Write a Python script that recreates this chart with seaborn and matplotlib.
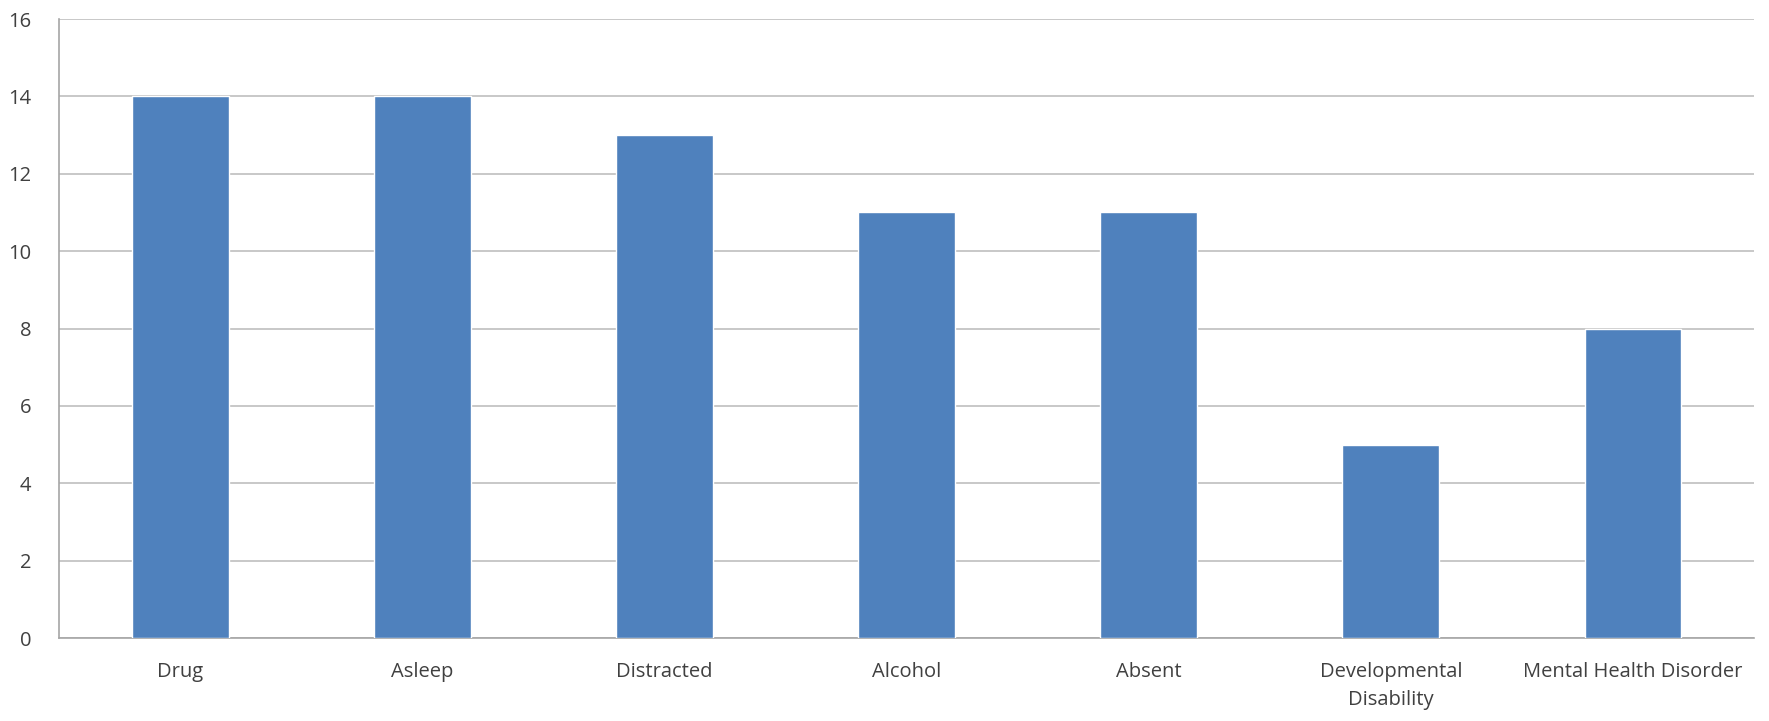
import matplotlib
matplotlib.use("Agg")
import pandas as pd
import seaborn as sns
from matplotlib import pyplot as plt

categories = ["Drug", "Asleep", "Distracted", "Alcohol", "Absent",
              "Developmental\nDisability", "Mental Health Disorder"]
counts = [14, 14, 13, 11, 11, 5, 8]
yticks = [0, 2, 4, 6, 8, 10, 12, 14, 16]

df = pd.DataFrame({"category": categories, "count": counts})

sns.set_style("white")
plt.rcParams["font.family"] = ["Open Sans", "DejaVu Sans"]

fig = plt.figure(figsize=(17.69, 7.21), dpi=100)
ax = fig.add_axes([59 / 1769, 1 - 638 / 721, (1754 - 59) / 1769, (638 - 19) / 721])

sns.barplot(data=df, x="category", y="count", color="#4F81BD",
            saturation=1, width=0.4, ax=ax, zorder=3)

ax.set_ylim(0, 16)
ax.set_yticks(yticks)
ax.set_xlim(-0.5, len(categories) - 0.5)
ax.yaxis.grid(True, color="#BFBFBF", linewidth=1.2, zorder=0)
ax.set_axisbelow(True)
ax.set_xlabel("")
ax.set_ylabel("")

for side in ["top", "right"]:
    ax.spines[side].set_visible(False)
for side in ["left", "bottom"]:
    ax.spines[side].set_color("#A6A6A6")
    ax.spines[side].set_linewidth(1.2)

ax.tick_params(axis="both", length=0, labelsize=14.5, colors="#404040")
ax.tick_params(axis="y", pad=20)
ax.tick_params(axis="x", pad=17)
for lbl in ax.get_xticklabels():
    lbl.set_linespacing(1.55)

plt.savefig("out.png", dpi=100)
